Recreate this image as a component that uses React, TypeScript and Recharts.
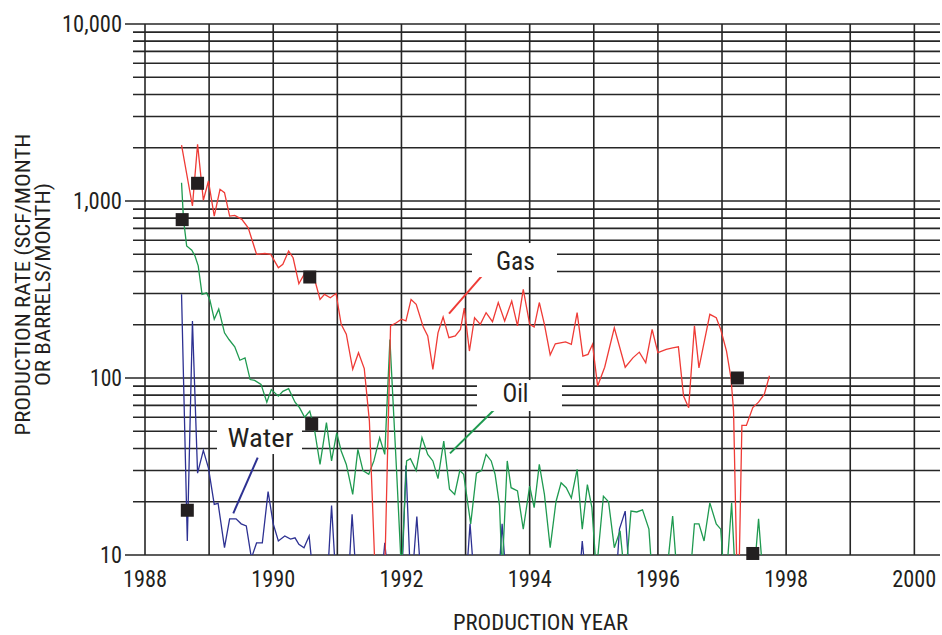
import { ComposedChart, Line, Scatter, XAxis, YAxis, ReferenceLine, ReferenceDot } from "recharts"

const FONT = '"Liberation Sans Narrow", "Roboto Condensed", "Liberation Sans", Arial, sans-serif'
const INK = "#231f20"
const GRID = "#262626"

const yearTicks = [1988, 1990, 1992, 1994, 1996, 1998, 2000]
const gridYears = [1988, 1989, 1990, 1991, 1992, 1993, 1994, 1995, 1996, 1997, 1998, 1999, 2000]
const rateTicks = [10, 100, 1000, 10000]
const minorRates = [
  20, 30, 40, 50, 60, 70, 80, 90,
  200, 300, 400, 500, 600, 700, 800, 900,
  2000, 3000, 4000, 5000, 6000, 7000, 8000, 9000,
]

// [year, rate] — gas in scf/month
const gas: [number, number][] = [
  [1988.57, 2070], [1988.74, 937], [1988.82, 2090], [1988.91, 1010], [1988.99, 1297],
  [1989.08, 822], [1989.17, 1164], [1989.24, 1114], [1989.32, 822], [1989.4, 830],
  [1989.51, 788], [1989.61, 706], [1989.74, 500], [1989.87, 505], [1989.96, 500],
  [1990.08, 420], [1990.15, 439], [1990.24, 521], [1990.31, 478], [1990.4, 341],
  [1990.49, 390], [1990.58, 370], [1990.66, 345], [1990.73, 278], [1990.8, 297],
  [1990.89, 284], [1990.98, 300], [1991.06, 201], [1991.14, 177], [1991.24, 112],
  [1991.33, 139], [1991.42, 113], [1991.5, 57], [1991.62, 4], [1991.72, 4],
  [1991.83, 197], [1991.92, 205], [1992.0, 215], [1992.07, 210], [1992.15, 278],
  [1992.23, 261], [1992.34, 194], [1992.41, 173], [1992.49, 112], [1992.57, 180],
  [1992.65, 221], [1992.74, 169], [1992.84, 173], [1992.92, 188], [1992.98, 248],
  [1993.06, 142], [1993.14, 219], [1993.23, 201], [1993.32, 234], [1993.42, 208],
  [1993.51, 267], [1993.61, 210], [1993.72, 272], [1993.81, 197], [1993.9, 317],
  [1994.0, 201], [1994.07, 194], [1994.15, 267], [1994.23, 201], [1994.32, 135],
  [1994.4, 156], [1994.56, 160], [1994.65, 155], [1994.74, 234], [1994.83, 133],
  [1994.91, 136], [1994.98, 155], [1995.06, 90], [1995.17, 115], [1995.32, 192],
  [1995.49, 115], [1995.61, 130], [1995.71, 140], [1995.81, 122], [1995.91, 188],
  [1996.0, 139], [1996.13, 145], [1996.23, 148], [1996.32, 150], [1996.4, 79],
  [1996.48, 68], [1996.57, 197], [1996.64, 114], [1996.81, 229], [1996.91, 219],
  [1996.98, 188], [1997.07, 142], [1997.14, 100], [1997.18, 65], [1997.25, 4],
  [1997.31, 54], [1997.38, 54], [1997.48, 68], [1997.57, 73], [1997.66, 81],
  [1997.74, 103],
]

// [year, rate] — oil in barrels/month
const oil: [number, number][] = [
  [1988.57, 1268], [1988.6, 790], [1988.65, 557], [1988.73, 527], [1988.78, 489],
  [1988.83, 430], [1988.89, 297], [1988.96, 303], [1989.01, 278], [1989.08, 215],
  [1989.15, 245], [1989.24, 180], [1989.31, 165], [1989.4, 150], [1989.48, 126],
  [1989.56, 130], [1989.64, 98], [1989.71, 97], [1989.81, 92], [1989.9, 73],
  [1989.97, 86], [1990.08, 79], [1990.15, 84], [1990.24, 87], [1990.34, 73],
  [1990.41, 68], [1990.49, 60], [1990.57, 65], [1990.64, 52], [1990.73, 32.5],
  [1990.83, 56], [1990.91, 34], [1990.99, 49], [1991.06, 38.7], [1991.14, 32.5],
  [1991.24, 22], [1991.32, 39.5], [1991.4, 30], [1991.49, 28.6], [1991.57, 34],
  [1991.66, 46], [1991.74, 37], [1991.82, 165], [1991.93, 27], [1992.0, 8],
  [1992.08, 34], [1992.14, 35], [1992.23, 30], [1992.32, 46], [1992.41, 37],
  [1992.49, 34], [1992.57, 27], [1992.66, 44], [1992.75, 23.5], [1992.83, 22],
  [1992.91, 30], [1992.97, 28.6], [1993.08, 15], [1993.17, 29], [1993.25, 30],
  [1993.32, 37], [1993.4, 34], [1993.46, 28.6], [1993.53, 19], [1993.57, 8],
  [1993.65, 34], [1993.71, 24], [1993.81, 23], [1993.9, 14], [1994.0, 24.5],
  [1994.07, 18.5], [1994.15, 32.5], [1994.23, 22], [1994.32, 11], [1994.41, 20],
  [1994.49, 25.6], [1994.57, 24], [1994.65, 21], [1994.74, 30.5], [1994.82, 14],
  [1994.9, 25], [1994.97, 18.6], [1995.04, 8], [1995.15, 21.5], [1995.23, 20],
  [1995.32, 11], [1995.41, 13.7], [1995.49, 7], [1995.58, 17.7], [1995.67, 17.5],
  [1995.76, 18], [1995.86, 14], [1995.93, 6], [1996.05, 5], [1996.14, 8],
  [1996.23, 16.6], [1996.32, 6], [1996.48, 6], [1996.57, 15], [1996.64, 15],
  [1996.72, 12], [1996.81, 19.7], [1996.91, 15], [1996.98, 14], [1997.05, 6],
  [1997.15, 19.7], [1997.22, 6], [1997.4, 5], [1997.49, 7], [1997.57, 16],
  [1997.66, 6],
]

// [year, rate] — water in barrels/month
const water: [number, number][] = [
  [1988.57, 297], [1988.66, 12], [1988.74, 210], [1988.82, 29], [1988.91, 39],
  [1988.99, 31], [1989.08, 19.3], [1989.14, 19.6], [1989.24, 11], [1989.32, 16],
  [1989.42, 16], [1989.5, 15], [1989.58, 14.6], [1989.66, 9.6], [1989.74, 11.7],
  [1989.83, 11.7], [1989.92, 22.8], [1990.0, 15], [1990.08, 12], [1990.18, 12.8],
  [1990.27, 12.3], [1990.34, 12.5], [1990.4, 11.5], [1990.48, 11], [1990.56, 12.8],
  [1990.65, 6], [1990.82, 5], [1990.91, 19], [1990.99, 6], [1991.15, 5],
  [1991.23, 17], [1991.31, 6], [1991.65, 5], [1991.74, 11.7], [1991.82, 6],
  [1991.99, 5], [1992.07, 32], [1992.15, 6], [1992.24, 16.5], [1992.32, 6],
  [1992.98, 5], [1993.07, 15], [1993.15, 6], [1993.49, 5], [1993.57, 15],
  [1993.65, 6], [1994.74, 5], [1994.82, 12], [1994.9, 6], [1995.32, 5],
  [1995.4, 14], [1995.49, 17.7], [1995.57, 6], [1995.7, 5],
]

// black square markers
const markers: [number, number][] = [
  [1988.58, 785], [1988.82, 1259], [1988.66, 17.9], [1990.57, 372],
  [1990.6, 54.8], [1997.24, 100], [1997.48, 10.2],
]

const toPoints = (rows: [number, number][]) => rows.map(([year, value]) => ({ year, value }))

const fmtRate = (v: number) => v.toLocaleString("en-US")

function RateTick({ x, y, payload }: any) {
  const widths: Record<number, number> = { 10: 22, 100: 32, 1000: 49, 10000: 60 }
  return (
    <text x={x} y={y + 8} textAnchor="end" fontFamily={FONT} fontSize={23} fill={INK}
      textLength={widths[payload.value]} lengthAdjust="spacingAndGlyphs">
      {fmtRate(payload.value)}
    </text>
  )
}

function YearTick({ x, y, payload }: any) {
  return (
    <text x={x} y={y + 32} textAnchor="middle" fontFamily={FONT} fontSize={23} fill={INK}
      textLength={44} lengthAdjust="spacingAndGlyphs">
      {payload.value}
    </text>
  )
}

function RateTitle({ viewBox }: any) {
  const cy = viewBox.y + viewBox.height / 2 - 5
  const x1 = viewBox.x + 30
  const x2 = viewBox.x + 50
  return (
    <g fontFamily={FONT} fontSize={21} fill={INK}>
      <text x={x1} y={cy} transform={`rotate(-90 ${x1} ${cy})`} textAnchor="middle"
        textLength={302} lengthAdjust="spacingAndGlyphs">PRODUCTION RATE (SCF/MONTH</text>
      <text x={x2} y={cy} transform={`rotate(-90 ${x2} ${cy})`} textAnchor="middle"
        textLength={203} lengthAdjust="spacingAndGlyphs">OR BARRELS/MONTH)</text>
    </g>
  )
}

function YearTitle({ viewBox }: any) {
  return (
    <text x={viewBox.x + 395.5} y={viewBox.y + 75} textAnchor="middle" fontFamily={FONT}
      fontSize={22} fill={INK} textLength={175} lengthAdjust="spacingAndGlyphs">
      PRODUCTION YEAR
    </text>
  )
}

function LabelBox({ cx, cy, text, w, h, dx, dy, tl }: any) {
  return (
    <g>
      <rect x={cx - w / 2} y={cy - h / 2} width={w} height={h} fill="#fff" />
      <text x={cx + dx} y={cy + dy} textAnchor="middle" fontFamily={FONT} fontSize={26}
        fill={INK} textLength={tl} lengthAdjust="spacingAndGlyphs">{text}</text>
    </g>
  )
}

function Square({ cx, cy }: any) {
  return <rect x={cx - 6.5} y={cy - 6.5} width={13} height={13} fill={INK} />
}

const GAS = "#ef3b36"
const OIL = "#1f9a50"
const WATER = "#2d3192"

export default function App() {
  return (
    <div style={{ position: "absolute", left: 0, top: 0, background: "#fff" }}>
      <ComposedChart width={942} height={635} margin={{ top: 24, right: 2, bottom: 0, left: 0 }}>
        <XAxis dataKey="year" type="number" domain={[1988, 2000.4]} ticks={yearTicks}
          allowDataOverflow height={80} axisLine={false} tickLine={false} tickSize={0}
          tickMargin={0} tick={<YearTick />} label={{ content: (p: any) => <YearTitle {...p} /> }} />
        <YAxis dataKey="value" scale="log" domain={[10, 10000]} ticks={rateTicks} allowDataOverflow
          width={145} axisLine={false} tickLine={false} tickSize={20} tickMargin={3}
          tick={<RateTick />} label={{ content: (p: any) => <RateTitle {...p} /> }} />
        <YAxis yAxisId="m" dataKey="value" scale="log" domain={[10, 10000]} hide />

        {minorRates.map((v) => (
          <ReferenceLine key={`n${v}`} ifOverflow="visible" stroke={GRID} strokeWidth={1.6}
            segment={[{ x: 1987.813, y: v }, { x: 2000.4, y: v }]} />
        ))}
        {rateTicks.map((v) => (
          <ReferenceLine key={`j${v}`} ifOverflow="visible" stroke={GRID} strokeWidth={1.6}
            segment={[{ x: 1987.688, y: v }, { x: 2000.4, y: v }]} />
        ))}
        {gridYears.map((yr) => (
          <ReferenceLine key={`v${yr}`} x={yr} stroke={GRID} strokeWidth={1.6} />
        ))}

        <ReferenceDot x={1993.763} y={464} ifOverflow="visible"
          shape={(p: any) => <LabelBox {...p} text="Gas" w={85} h={34} dx={1} dy={10} tl={39} />} />
        <ReferenceDot x={1993.841} y={79.6} ifOverflow="visible"
          shape={(p: any) => <LabelBox {...p} text="Oil" w={85} h={31} dx={-4} dy={6} tl={26} />} />
        <ReferenceDot x={1989.786} y={46.4} ifOverflow="visible"
          shape={(p: any) => <LabelBox {...p} text="Water" w={85} h={34} dx={1} dy={10} tl={66} />} />

        <ReferenceLine segment={[{ x: 1993.381, y: 425.6 }, { x: 1992.742, y: 231 }]}
          stroke={GAS} strokeWidth={2} />
        <ReferenceLine segment={[{ x: 1993.537, y: 71.3 }, { x: 1992.757, y: 37.5 }]}
          stroke={OIL} strokeWidth={2} />
        <ReferenceLine segment={[{ x: 1989.758, y: 35.5 }, { x: 1989.377, y: 17.2 }]}
          stroke={WATER} strokeWidth={2} />

        <Line data={toPoints(water)} dataKey="value" stroke={WATER} strokeWidth={1.3}
          dot={false} type="linear" isAnimationActive={false} />
        <Line data={toPoints(oil)} dataKey="value" stroke={OIL} strokeWidth={1.3}
          dot={false} type="linear" isAnimationActive={false} />
        <Line data={toPoints(gas)} dataKey="value" stroke={GAS} strokeWidth={1.3}
          dot={false} type="linear" isAnimationActive={false} />
        <Scatter yAxisId="m" data={toPoints(markers)} dataKey="value" shape={<Square />}
          isAnimationActive={false} />
      </ComposedChart>
    </div>
  )
}
